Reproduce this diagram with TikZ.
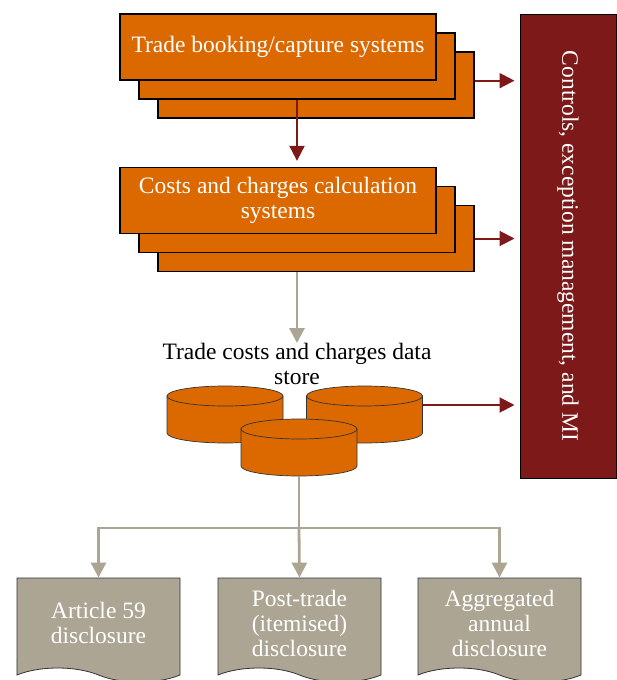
\documentclass[tikz,border=0pt]{standalone}
\usepackage{fontspec}
\setmainfont{Liberation Serif}
\usepackage{graphicx}
\usepackage{tikz}
\usetikzlibrary{shapes.geometric, shapes.symbols, arrows.meta, positioning}
\definecolor{pwcorange}{RGB}{220, 105, 0}
\definecolor{ctrlred}{RGB}{125, 25, 25}
\definecolor{discgray}{RGB}{173, 165, 147}

\begin{document}
\begin{tikzpicture}[x=1pt, y=-1pt,
    font=\fontsize{23.5}{25}\selectfont,
    sysbox/.style={draw=black, line width=1.3pt, fill=pwcorange, text=white,
        minimum width=316pt, minimum height=66pt, inner sep=0pt, align=center},
    drum/.pic={
        \filldraw[draw=black!80, line width=0.7pt, fill=pwcorange]
            (-58,0) -- (-58,37)
            arc[start angle=180, end angle=360, x radius=58pt, y radius=10pt]
            -- (58,0) -- cycle;
        \filldraw[draw=black!80, line width=0.7pt, fill=pwcorange]
            (0,0) ellipse[x radius=58pt, y radius=10pt];
        \coordinate (-east) at (58,9);
        \coordinate (-south) at (0,47);
    },
    docbox/.style={tape, tape bend top=none, tape bend bottom=out and in,
        tape bend height=14pt, draw=black!80, line width=0.8pt, fill=discgray,
        text=white, minimum width=163pt, minimum height=104pt, inner sep=0pt,
        align=center},
    ctrlbox/.style={draw=black, line width=1pt, fill=ctrlred, text=white,
        minimum width=96pt, minimum height=464pt, inner sep=0pt},
    redarrow/.style={draw=ctrlred, line width=2pt,
        -{Triangle[length=15pt, width=15pt]}},
    grayline/.style={draw=discgray, line width=2.8pt},
    grayarrow/.style={grayline, -{Triangle[length=15pt, width=15pt]}}]

\useasboundingbox (0,0) rectangle (617,680);

% Booking systems (stack of three)
\node[sysbox] (book3) at (316, 85) {};
\node[sysbox] (book2) at (297, 66) {};
\node[sysbox] (book1) at (278, 47) {Trade booking/capture systems};

% Calculation systems (stack of three)
\node[sysbox] (calc3) at (316, 238.5) {};
\node[sysbox] (calc2) at (297, 219.5) {};
\node[sysbox] (calc1) at (278, 200.5) {Costs and charges calculation\\systems};

% Controls column
\node[ctrlbox] (ctrl) at (568, 246)
    {\rotatebox{-90}{Controls, exception management, and MI}};

% Data store
\node[inner sep=0pt, align=center] (storelabel) at (297, 364)
    {Trade costs and charges data\\store};
\pic (store1) at (225, 396) {drum};
\pic (store2) at (364.5, 396) {drum};
\pic (store3) at (299, 429) {drum};

% Disclosures
\node[docbox] (doc1) at (98.5, 623) {Article 59\\disclosure};
\node[docbox] (doc2) at (299.5, 623) {Post-trade\\(itemised)\\disclosure};
\node[docbox] (doc3) at (499.5, 623) {Aggregated\\annual\\disclosure};

% Connectors
\draw[redarrow, shorten >=6pt] (book2.south) -- (book2.south |- calc1.north);
\draw[redarrow, shorten >=5pt] (book3.east |- book1.south) -- (book1.south -| ctrl.west);
\draw[redarrow, shorten >=5pt] (calc3.east) -- (calc3.east -| ctrl.west);
\draw[redarrow, shorten >=5pt] (store2-east) -- (store2-east -| ctrl.west);
\draw[grayarrow] (calc2.south |- calc3.south) -- (storelabel.north);

\coordinate (split) at (299, 528);
\draw[grayline] (store3-south) -- (split);
\draw[grayarrow] (split) -| (doc1.north);
\draw[grayarrow] (split) -- (doc2.north);
\draw[grayarrow] (split) -| (doc3.north);

\end{tikzpicture}
\end{document}
